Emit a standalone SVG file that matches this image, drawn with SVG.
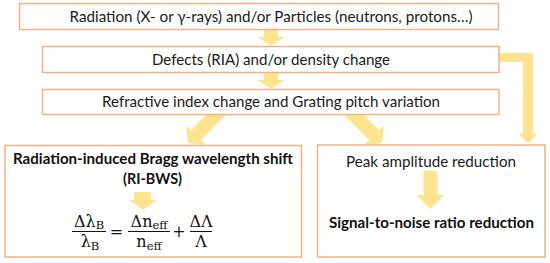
<svg xmlns="http://www.w3.org/2000/svg" width="550" height="263" viewBox="0 0 550 263">
<style>
.box{fill:#ffffff;stroke:#F4B183;stroke-width:1.5}
.arr{fill:#FFE38F;stroke:none}
.t{font-family:Lato,"Liberation Sans",sans-serif;font-size:15px;fill:#1a1a1a}
.b{font-family:Lato,"Liberation Sans",sans-serif;font-size:15px;font-weight:bold;fill:#111}
.m{font-family:"DejaVu Serif","Liberation Serif",serif;font-size:16px;fill:#111}
.s{font-size:11.5px}
.bar{stroke:#111;stroke-width:1}
</style>
<rect width="550" height="263" fill="#ffffff"/>
<g id="connectors">
<polygon class="arr" points="264,29 278,29 278,37 285,37 271,45.5 257,37 264,37"/>
<polygon class="arr" points="264,72 278,72 278,80 285,80 271,88.5 257,80 264,80"/>
<polygon class="arr" transform="translate(188,143) rotate(45)" points="-7,-60 7,-60 7,-11 13.5,-11 0,0 -13.5,-11 -7,-11"/>
<polygon class="arr" transform="translate(382,143) rotate(-45)" points="-7,-60 7,-60 7,-11 13.5,-11 0,0 -13.5,-11 -7,-11"/>
<polygon class="arr" points="499,53 533,53 533,134 537.5,134 528,143.5 518.5,134 523,134 523,62 499,62"/>
</g>
<g id="n1">
<rect class="box" x="19.5" y="3.5" width="479" height="26"/>
<text class="t" x="271" y="21.5" text-anchor="middle" textLength="403" lengthAdjust="spacingAndGlyphs">Radiation (X- or γ-rays) and/or Particles (neutrons, protons…)</text>
</g>
<g id="n2">
<rect class="box" x="42.5" y="46.5" width="456.5" height="26"/>
<text class="t" x="271" y="64.5" text-anchor="middle" textLength="238" lengthAdjust="spacingAndGlyphs">Defects (RIA) and/or density change</text>
</g>
<g id="n3">
<rect class="box" x="42.5" y="89.5" width="456.5" height="25"/>
<text class="t" x="271" y="107" text-anchor="middle" textLength="338" lengthAdjust="spacingAndGlyphs">Refractive index change and Grating pitch variation</text>
</g>
<g id="n4">
<rect class="box" x="5" y="145.5" width="296.5" height="111.5"/>
<text class="b" x="153" y="163.5" text-anchor="middle" textLength="280" lengthAdjust="spacingAndGlyphs">Radiation-induced Bragg wavelength shift</text>
<text class="b" x="152.5" y="183.5" text-anchor="middle" textLength="59" lengthAdjust="spacingAndGlyphs">(RI-BWS)</text>
<polygon class="arr" points="134,192 151,192 151,200 157,200 143,210 129,200 134,200"/>
<g id="formula">
<text class="m" x="89" y="226.5" text-anchor="middle">Δλ<tspan class="s" dy="2.5">B</tspan></text>
<line class="bar" x1="72" y1="231.5" x2="106" y2="231.5"/>
<text class="m" x="90" y="247" text-anchor="middle">λ<tspan class="s" dy="2.5">B</tspan></text>
<text class="m" x="116.5" y="237" text-anchor="middle">=</text>
<text class="m" x="149" y="226.5" text-anchor="middle">Δn<tspan class="s" dy="2.5">eff</tspan></text>
<line class="bar" x1="128" y1="231.5" x2="170" y2="231.5"/>
<text class="m" x="149" y="247" text-anchor="middle">n<tspan class="s" dy="2.5">eff</tspan></text>
<text class="m" x="179" y="237" text-anchor="middle">+</text>
<text class="m" x="201" y="226.5" text-anchor="middle">ΔΛ</text>
<line class="bar" x1="190" y1="231.5" x2="212" y2="231.5"/>
<text class="m" x="201" y="247" text-anchor="middle">Λ</text>
</g>
</g>
<g id="n5">
<rect class="box" x="317.5" y="145" width="227.5" height="112"/>
<text class="t" x="431" y="166.5" text-anchor="middle" textLength="170" lengthAdjust="spacingAndGlyphs">Peak amplitude reduction</text>
<polygon class="arr" points="423.5,171 437.5,171 437.5,195 444.5,195 430.5,209 416.5,195 423.5,195"/>
<text class="b" x="431.5" y="227.5" text-anchor="middle" textLength="205" lengthAdjust="spacingAndGlyphs">Signal-to-noise ratio reduction</text>
</g>
</svg>
